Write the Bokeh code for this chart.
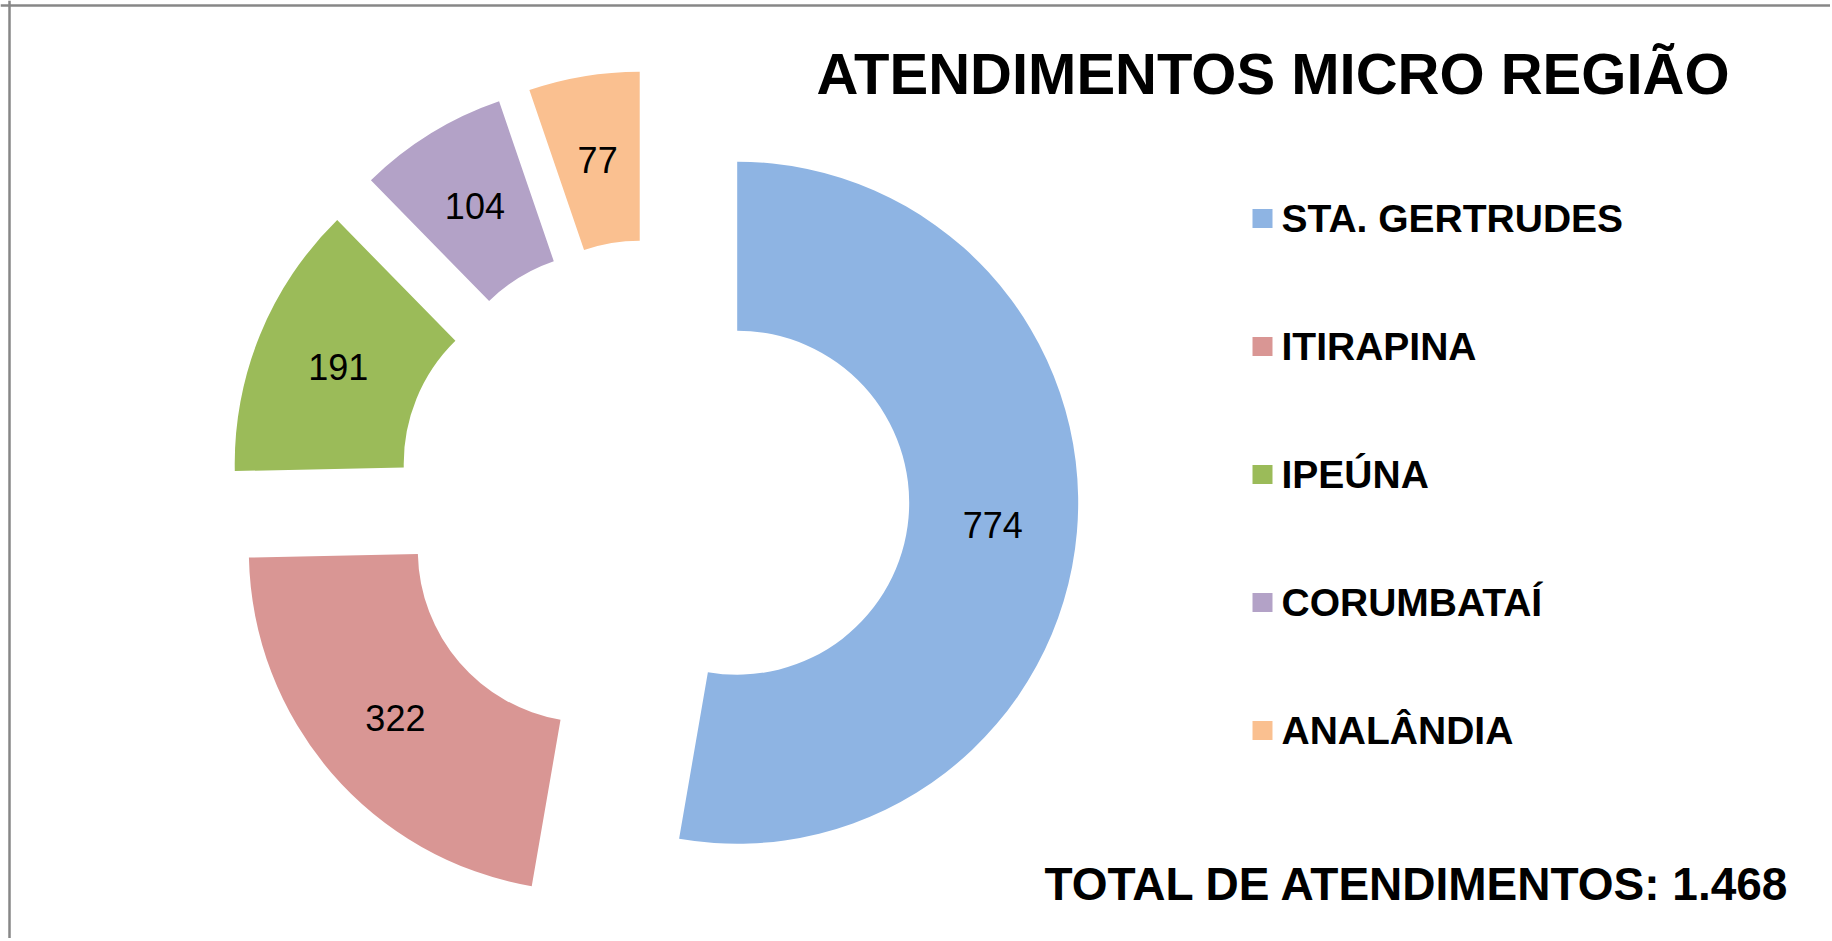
import math
from bokeh.plotting import figure
from bokeh.models import Range1d, Span, ColumnDataSource
from bokeh.core.properties import value
from bokeh.embed import file_html
from bokeh.resources import INLINE

# ---- data ----
categories = ["STA. GERTRUDES", "ITIRAPINA", "IPEÚNA", "CORUMBATAÍ", "ANALÂNDIA"]
counts = [774, 322, 191, 104, 77]
colors = ["#8EB4E3", "#D99694", "#9BBB59", "#B3A2C7", "#FAC090"]
title_text = "ATENDIMENTOS MICRO REGIÃO"
total_text = "TOTAL DE ATENDIMENTOS: 1.468"

# ---- layout (pixel-like data units; data y = 941 - image y) ----
W, H = 1830, 938
IMG_H = 941
def Y(img_y):
    return IMG_H - img_y

CX, CY = 653, Y(495)
R_OUT, R_IN = 341, 172
EXPLODE = 84
FONT = "Liberation Sans"

total = sum(counts)
start, end, xs, ys, lx, ly = [], [], [], [], [], []
cum = 0.0
for v in counts:
    t0 = cum / total * 2 * math.pi
    cum += v
    t1 = cum / total * 2 * math.pi
    # clockwise from 12 o'clock -> bokeh angles (anticlockwise from +x)
    start.append(math.pi / 2 - t1)
    end.append(math.pi / 2 - t0)
    phi = math.pi / 2 - (t0 + t1) / 2
    cx = CX + EXPLODE * math.cos(phi)
    cy = CY + EXPLODE * math.sin(phi)
    xs.append(cx)
    ys.append(cy)
    mid = (R_OUT + R_IN) / 2
    lx.append(cx + mid * math.cos(phi))
    ly.append(cy + mid * math.sin(phi))

src = ColumnDataSource(dict(x=xs, y=ys, start=start, end=end, color=colors,
                            lx=lx, ly=ly, lab=[str(c) for c in counts]))

p = figure(width=W, height=H, output_backend="svg", toolbar_location=None,
           x_range=Range1d(0, W), y_range=Range1d(IMG_H - H, IMG_H),
           min_border=0, outline_line_color=None, background_fill_color="white")
p.axis.visible = False
p.grid.visible = False

p.annular_wedge(x="x", y="y", inner_radius=R_IN, outer_radius=R_OUT,
                start_angle="start", end_angle="end", fill_color="color",
                line_color=None, source=src)

p.text(x="lx", y="ly", text="lab", source=src, text_font=value(FONT),
       text_font_size="36px", text_color="black", text_align="center",
       text_baseline="middle")

# title
p.text(x=[816], y=[Y(73)], text=[title_text], text_font=value(FONT),
       text_font_size="58px", text_font_style="bold", text_color="black",
       text_align="left", text_baseline="middle")

# legend
leg_y = [Y(218 + 128 * i) for i in range(len(categories))]
p.rect(x=[1262] * len(categories), y=leg_y, width=20, height=19,
       fill_color=colors, line_color=None)
p.text(x=[1281] * len(categories), y=leg_y, text=categories, text_font=value(FONT),
       text_font_size="39px", text_font_style="bold", text_color="black",
       text_align="left", text_baseline="middle")

# total
p.text(x=[1044], y=[Y(883)], text=[total_text], text_font=value(FONT),
       text_font_size="46px", text_font_style="bold", text_color="black",
       text_align="left", text_baseline="middle")

# chart frame (left and top edges visible)
p.add_layout(Span(location=9, dimension="height", line_color="#878787", line_width=2.5))
p.add_layout(Span(location=Y(5), dimension="width", line_color="#878787", line_width=2.5))

open("out.html", "w").write(file_html(p, INLINE))
